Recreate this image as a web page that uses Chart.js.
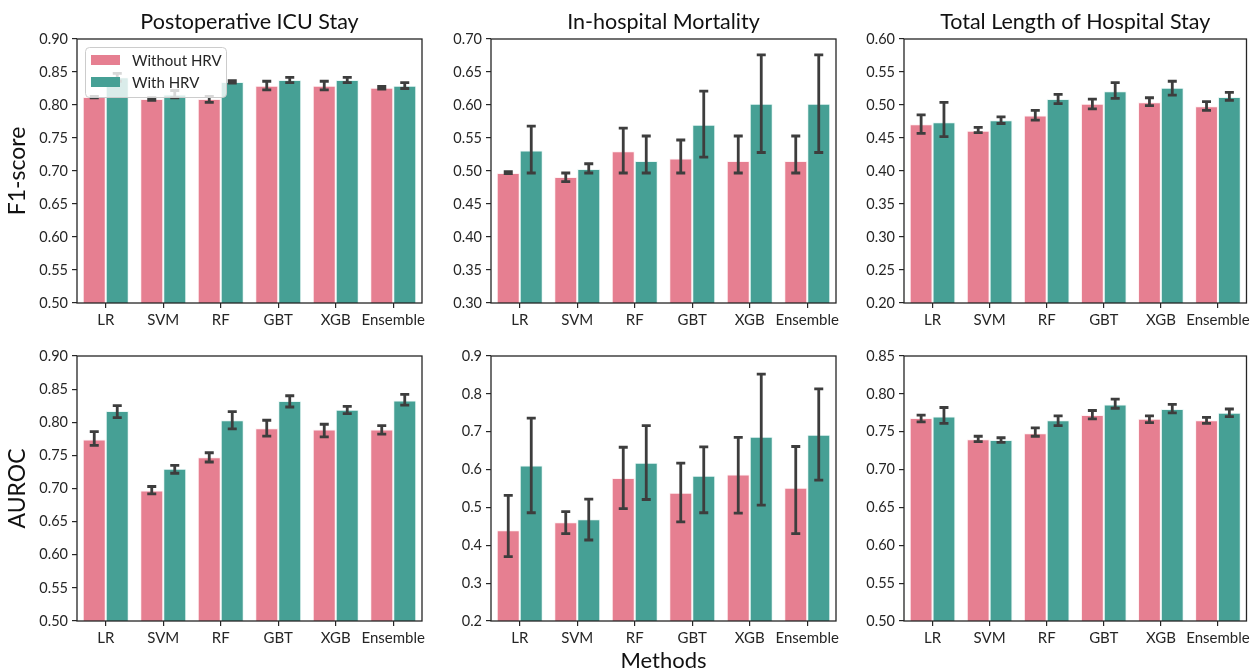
<!DOCTYPE html>
<html><head><meta charset="utf-8">
<script src="https://cdn.jsdelivr.net/npm/chart.js@4.4.1/dist/chart.umd.min.js"></script>
<style>
html,body{margin:0;padding:0;background:#fff;overflow:hidden;width:1253px;height:672px}
canvas{position:absolute}
</style></head><body>
<canvas id="c1" width="430" height="340" style="left:0px;top:0px"></canvas>
<canvas id="c2" width="430" height="340" style="left:414px;top:0px"></canvas>
<canvas id="c3" width="426" height="340" style="left:827px;top:0px"></canvas>
<canvas id="c4" width="430" height="328" style="left:0px;top:330px"></canvas>
<canvas id="c5" width="430" height="342" style="left:414px;top:330px"></canvas>
<canvas id="c6" width="426" height="328" style="left:827px;top:330px"></canvas>
<script>
const methods = ['LR', 'SVM', 'RF', 'GBT', 'XGB', 'Ensemble'];
const seriesNames = ['Without HRV', 'With HRV'];
const panelTitles = ['Postoperative ICU Stay', 'In-hospital Mortality', 'Total Length of Hospital Stay'];
const rowLabels = ['F1-score', 'AUROC'];
const xAxisLabel = 'Methods';

// F1-score, Postoperative ICU Stay
const f1IcuWithout   = [0.812, 0.809, 0.809, 0.829, 0.829, 0.826];
const f1IcuWithoutLo = [0.811, 0.807, 0.804, 0.823, 0.823, 0.824];
const f1IcuWithoutHi = [0.813, 0.811, 0.813, 0.836, 0.836, 0.828];
const f1IcuWith      = [0.842, 0.816, 0.835, 0.838, 0.838, 0.829];
const f1IcuWithLo    = [0.836, 0.811, 0.833, 0.834, 0.834, 0.825];
const f1IcuWithHi    = [0.848, 0.822, 0.837, 0.842, 0.842, 0.834];
const f1IcuTicks = {min: 0.50, max: 0.90, step: 0.05, digits: 2};

// F1-score, In-hospital Mortality
const f1MortWithout   = [0.497, 0.491, 0.530, 0.519, 0.515, 0.515];
const f1MortWithoutLo = [0.496, 0.484, 0.497, 0.497, 0.497, 0.497];
const f1MortWithoutHi = [0.499, 0.497, 0.565, 0.547, 0.553, 0.553];
const f1MortWith      = [0.531, 0.503, 0.515, 0.570, 0.602, 0.602];
const f1MortWithLo    = [0.497, 0.497, 0.497, 0.521, 0.528, 0.528];
const f1MortWithHi    = [0.568, 0.511, 0.553, 0.621, 0.676, 0.676];
const f1MortTicks = {min: 0.30, max: 0.70, step: 0.05, digits: 2};

// F1-score, Total Length of Hospital Stay
const f1LosWithout   = [0.471, 0.461, 0.484, 0.502, 0.504, 0.498];
const f1LosWithoutLo = [0.457, 0.458, 0.477, 0.494, 0.499, 0.492];
const f1LosWithoutHi = [0.485, 0.466, 0.492, 0.509, 0.511, 0.505];
const f1LosWith      = [0.474, 0.477, 0.509, 0.521, 0.526, 0.512];
const f1LosWithLo    = [0.452, 0.472, 0.502, 0.510, 0.515, 0.507];
const f1LosWithHi    = [0.504, 0.482, 0.516, 0.534, 0.536, 0.519];
const f1LosTicks = {min: 0.20, max: 0.60, step: 0.05, digits: 2};

// AUROC, Postoperative ICU Stay
const aucIcuWithout   = [0.774, 0.697, 0.747, 0.791, 0.789, 0.789];
const aucIcuWithoutLo = [0.765, 0.692, 0.740, 0.779, 0.778, 0.782];
const aucIcuWithoutHi = [0.786, 0.703, 0.754, 0.803, 0.797, 0.795];
const aucIcuWith      = [0.817, 0.730, 0.803, 0.832, 0.819, 0.833];
const aucIcuWithLo    = [0.807, 0.723, 0.790, 0.823, 0.813, 0.826];
const aucIcuWithHi    = [0.825, 0.735, 0.816, 0.840, 0.824, 0.842];
const aucIcuTicks = {min: 0.50, max: 0.90, step: 0.05, digits: 2};

// AUROC, In-hospital Mortality
const aucMortWithout   = [0.440, 0.461, 0.578, 0.539, 0.587, 0.552];
const aucMortWithoutLo = [0.370, 0.431, 0.497, 0.462, 0.485, 0.431];
const aucMortWithoutHi = [0.532, 0.489, 0.659, 0.617, 0.685, 0.661];
const aucMortWith      = [0.611, 0.469, 0.618, 0.584, 0.687, 0.692];
const aucMortWithLo    = [0.486, 0.414, 0.521, 0.486, 0.506, 0.572];
const aucMortWithHi    = [0.736, 0.522, 0.716, 0.660, 0.852, 0.813];
const aucMortTicks = {min: 0.2, max: 0.9, step: 0.1, digits: 1};

// AUROC, Total Length of Hospital Stay
const aucLosWithout   = [0.768, 0.740, 0.748, 0.772, 0.767, 0.765];
const aucLosWithoutLo = [0.763, 0.737, 0.744, 0.767, 0.762, 0.761];
const aucLosWithoutHi = [0.772, 0.744, 0.755, 0.778, 0.771, 0.769];
const aucLosWith      = [0.770, 0.739, 0.765, 0.786, 0.780, 0.775];
const aucLosWithLo    = [0.761, 0.736, 0.758, 0.781, 0.775, 0.770];
const aucLosWithHi    = [0.782, 0.742, 0.771, 0.793, 0.786, 0.780];
const aucLosTicks = {min: 0.50, max: 0.85, step: 0.05, digits: 2};

const PINK = '#e67f91';
const TEAL = '#46a095';
const FONT = 'Lato, "Open Sans", sans-serif';
const TXT = '#262626';

const errorBarPlugin = {
  id: 'errorBars',
  afterDatasetsDraw(chart) {
    const ctx = chart.ctx;
    const ys = chart.scales.y;
    ctx.save();
    ctx.beginPath();
    ctx.rect(chart.chartArea.left, chart.chartArea.top, chart.chartArea.width, chart.chartArea.height);
    ctx.clip();
    ctx.strokeStyle = '#3d3d3d';
    ctx.lineWidth = 2.8;
    ctx.lineCap = 'butt';
    chart.data.datasets.forEach((ds, i) => {
      const meta = chart.getDatasetMeta(i);
      meta.data.forEach((bar, j) => {
        const x = bar.x;
        const yLo = ys.getPixelForValue(ds.errLo[j]);
        const yHi = ys.getPixelForValue(ds.errHi[j]);
        ctx.beginPath();
        ctx.moveTo(x, yLo); ctx.lineTo(x, yHi);
        ctx.moveTo(x - 4.5, yLo); ctx.lineTo(x + 4.5, yLo);
        ctx.moveTo(x - 4.5, yHi); ctx.lineTo(x + 4.5, yHi);
        ctx.stroke();
      });
    });
    ctx.restore();
  }
};

const framePlugin = {
  id: 'frame',
  afterDraw(chart) {
    const a = chart.chartArea, ctx = chart.ctx;
    ctx.save();
    ctx.strokeStyle = TXT;
    ctx.lineWidth = 1.3;
    ctx.strokeRect(a.left, a.top, a.right - a.left, a.bottom - a.top);
    ctx.restore();
  }
};

const panelTitlePlugin = {
  id: 'panelTitle',
  afterDraw(chart, args, opts) {
    if (!opts.text) return;
    const a = chart.chartArea, ctx = chart.ctx;
    ctx.save();
    ctx.font = '21.5px ' + FONT;
    ctx.fillStyle = '#111';
    ctx.textAlign = 'center';
    ctx.textBaseline = 'middle';
    ctx.fillText(opts.text, (a.left + a.right) / 2, a.top - 17);
    ctx.restore();
  }
};

const legendPlugin = {
  id: 'boxLegend',
  afterDraw(chart, args, opts) {
    if (!opts.show) return;
    const a = chart.chartArea, ctx = chart.ctx;
    const x0 = a.left + 8, y0 = a.top + 8, w = 141, h = 50, r = 4;
    ctx.save();
    ctx.fillStyle = 'rgba(255,255,255,0.8)';
    ctx.strokeStyle = '#cccccc';
    ctx.lineWidth = 1;
    ctx.beginPath();
    ctx.roundRect(x0 + 0.5, y0 + 0.5, w, h, r);
    ctx.fill();
    ctx.stroke();
    ctx.font = '15px ' + FONT;
    ctx.textBaseline = 'middle';
    chart.data.datasets.forEach((ds, i) => {
      const cy = y0 + 13 + i * 22;
      ctx.fillStyle = ds.backgroundColor;
      ctx.fillRect(x0 + 6, cy - 5, 29, 10);
      ctx.fillStyle = TXT;
      ctx.fillText(ds.label, x0 + 47, cy + 1);
    });
    ctx.restore();
  }
};

function makeChart(id, o) {
  const yTitle = o.yTitle ? {display: true, text: o.yTitle, color: '#111', font: {family: FONT, size: 23}, padding: {top: 4, bottom: 0}} : {display: false};
  const xTitle = o.xTitle ? {display: true, text: o.xTitle, color: '#111', font: {family: FONT, size: 22}, padding: {top: 0, bottom: -2}} : {display: false};
  return new Chart(document.getElementById(id), {
    type: 'bar',
    data: {
      labels: methods,
      datasets: [
        {label: seriesNames[0], data: o.without, errLo: o.withoutLo, errHi: o.withoutHi,
         backgroundColor: PINK, borderColor: 'rgba(255,235,238,0.7)', borderWidth: 1, borderSkipped: 'bottom'},
        {label: seriesNames[1], data: o.with, errLo: o.withLo, errHi: o.withHi,
         backgroundColor: TEAL, borderColor: 'rgba(225,245,242,0.7)', borderWidth: 1, borderSkipped: 'bottom'}
      ]
    },
    options: {
      responsive: false,
      animation: false,
      events: [],
      layout: {padding: o.padding},
      categoryPercentage: 0.8,
      barPercentage: 1.0,
      plugins: {
        legend: {display: false},
        tooltip: {enabled: false},
        title: {display: false},
        panelTitle: {text: o.title || ''},
        boxLegend: {show: !!o.legend}
      },
      scales: {
        x: {
          grid: {display: true, drawOnChartArea: false, drawTicks: true, tickLength: 5, offset: false, color: TXT, lineWidth: 1.2},
          border: {display: false},
          ticks: {color: TXT, font: {family: FONT, size: 15}, padding: 3, maxRotation: 0, autoSkip: false},
          title: xTitle,
          afterFit(s) { s.height = o.xHeight; }
        },
        y: {
          min: o.ticks.min, max: o.ticks.max,
          grid: {display: true, drawOnChartArea: false, drawTicks: true, tickLength: 5, color: TXT, lineWidth: 1.2},
          border: {display: false},
          ticks: {stepSize: o.ticks.step, color: TXT, font: {family: FONT, size: 14.5}, padding: 4,
                  callback: v => Number(v).toFixed(o.ticks.digits)},
          title: yTitle,
          afterFit(s) { s.width = 77; }
        }
      }
    },
    plugins: [errorBarPlugin, framePlugin, panelTitlePlugin, legendPlugin]
  });
}

makeChart('c1', {title: panelTitles[0], yTitle: rowLabels[0], legend: true, ticks: f1IcuTicks,
  without: f1IcuWithout, withoutLo: f1IcuWithoutLo, withoutHi: f1IcuWithoutHi,
  with: f1IcuWith, withLo: f1IcuWithLo, withHi: f1IcuWithHi,
  padding: {left: 0, right: 8, top: 39, bottom: 0}, xHeight: 37});
makeChart('c2', {title: panelTitles[1], ticks: f1MortTicks,
  without: f1MortWithout, withoutLo: f1MortWithoutLo, withoutHi: f1MortWithoutHi,
  with: f1MortWith, withLo: f1MortWithLo, withHi: f1MortWithHi,
  padding: {left: 0, right: 8, top: 39, bottom: 0}, xHeight: 37});
makeChart('c3', {title: panelTitles[2], ticks: f1LosTicks,
  without: f1LosWithout, withoutLo: f1LosWithoutLo, withoutHi: f1LosWithoutHi,
  with: f1LosWith, withLo: f1LosWithLo, withHi: f1LosWithHi,
  padding: {left: 0, right: 4, top: 39, bottom: 0}, xHeight: 37});
makeChart('c4', {yTitle: rowLabels[1], ticks: aucIcuTicks,
  without: aucIcuWithout, withoutLo: aucIcuWithoutLo, withoutHi: aucIcuWithoutHi,
  with: aucIcuWith, withLo: aucIcuWithLo, withHi: aucIcuWithHi,
  padding: {left: 0, right: 8, top: 26, bottom: 0}, xHeight: 37});
makeChart('c5', {xTitle: xAxisLabel, ticks: aucMortTicks,
  without: aucMortWithout, withoutLo: aucMortWithoutLo, withoutHi: aucMortWithoutHi,
  with: aucMortWith, withLo: aucMortWithLo, withHi: aucMortWithHi,
  padding: {left: 0, right: 8, top: 26, bottom: 0}, xHeight: 51});
makeChart('c6', {ticks: aucLosTicks,
  without: aucLosWithout, withoutLo: aucLosWithoutLo, withoutHi: aucLosWithoutHi,
  with: aucLosWith, withLo: aucLosWithLo, withHi: aucLosWithHi,
  padding: {left: 0, right: 4, top: 26, bottom: 0}, xHeight: 37});
</script>
</body></html>
